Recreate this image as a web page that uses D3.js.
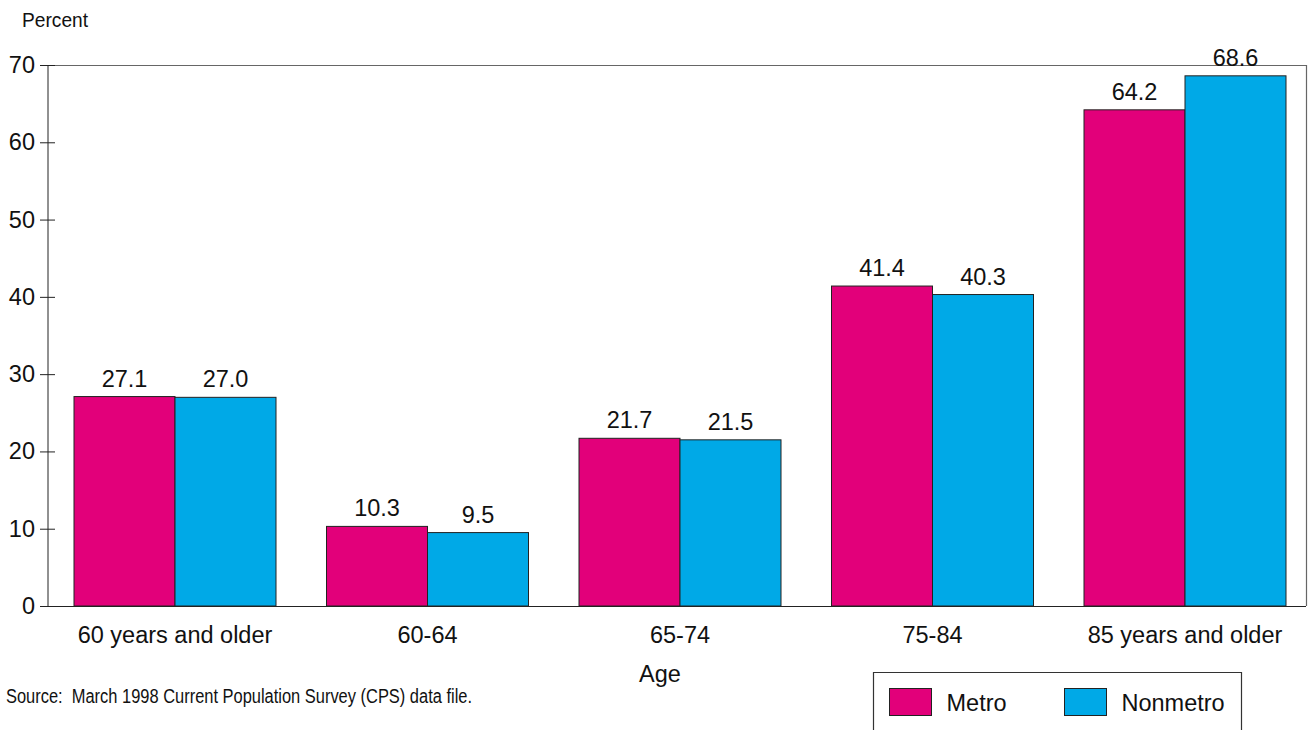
<!DOCTYPE html>
<html>
<head>
<meta charset="utf-8">
<script src="https://cdn.jsdelivr.net/npm/d3@7/dist/d3.min.js"></script>
<style>
  body { margin: 0; background: #fff; }
  svg { display: block; font-family: "Liberation Sans", Arial, sans-serif; }
</style>
</head>
<body>
<svg id="chart" width="1312" height="730"></svg>
<script>
// chart data
const ageGroups = ['60 years and older', '60-64', '65-74', '75-84', '85 years and older'];
const metroVals = [27.1, 10.3, 21.7, 41.4, 64.2];
const nonmetroVals = [27.0, 9.5, 21.5, 40.3, 68.6];
const seriesNames = ['Metro', 'Nonmetro'];
const yTicks = [0, 10, 20, 30, 40, 50, 60, 70];

const colors = { Metro: '#e2007a', Nonmetro: '#00a9e7' };
const fs = 23.5;

const svg = d3.select('#chart');
const margin = { left: 48, top: 65 };
const width = 1306 - margin.left;   // frame width
const height = 606 - margin.top;

const g = svg.append('g').attr('transform', `translate(${margin.left},${margin.top})`);

// bar groups don't sit symmetric in the frame, so the band range is a bit wider
const x0 = d3.scaleBand().domain(ageGroups).range([0.75, 1263.25]).paddingInner(0.2).paddingOuter(0.1);
const x1 = d3.scaleBand().domain(seriesNames).range([0, x0.bandwidth()]);
const y = d3.scaleLinear().domain([0, 70]).range([height, 0]);

// frame top + right (grey)
g.append('path')
  .attr('d', `M0,0.5H${width + 0.5}V${height}`)
  .attr('fill', 'none')
  .attr('stroke', '#666')
  .attr('stroke-width', 1.2);

const rows = ageGroups.map((a, i) => ({ age: a, Metro: metroVals[i], Nonmetro: nonmetroVals[i] }));

const grp = g.selectAll('g.grp').data(rows).enter().append('g')
  .attr('class', 'grp')
  .attr('transform', d => `translate(${x0(d.age)},0)`);

grp.selectAll('rect').data(d => seriesNames.map(s => ({ s: s, v: d[s] }))).enter().append('rect')
  .attr('x', d => x1(d.s))
  .attr('y', d => y(d.v))
  .attr('width', x1.bandwidth())
  .attr('height', d => height - y(d.v))
  .attr('fill', d => colors[d.s])
  .attr('stroke', '#222')
  .attr('stroke-width', 1);

grp.selectAll('text.val').data(d => seriesNames.map(s => ({ s: s, v: d[s] }))).enter().append('text')
  .attr('class', 'val')
  .attr('x', d => x1(d.s) + x1.bandwidth() / 2)
  .attr('y', d => y(d.v) - 10)
  .attr('text-anchor', 'middle')
  .attr('font-size', fs)
  .attr('fill', '#111')
  .text(d => d.v.toFixed(1));

// left axis with ticks crossing the line
const yAxis = d3.axisLeft(y).tickValues(yTicks).tickSize(0).tickPadding(13);
const ya = g.append('g').call(yAxis);
ya.attr('font-family', null).attr('font-size', null);
ya.select('.domain').remove();
ya.selectAll('.tick text').attr('font-size', fs).attr('fill', '#111');
ya.selectAll('.tick').append('line')
  .attr('x1', -8).attr('x2', 7).attr('stroke', '#222');
g.append('line').attr('x1', 0).attr('x2', 0).attr('y1', 0).attr('y2', height).attr('stroke', '#222');

// bottom axis
const xAxis = d3.axisBottom(x0).tickSize(0).tickPadding(20);
const xa = g.append('g').attr('transform', `translate(0,${height})`).call(xAxis);
xa.attr('font-family', null).attr('font-size', null);
xa.select('.domain').attr('stroke', '#222').attr('d', `M0,0.5H${width}`);
xa.selectAll('.tick text').attr('font-size', fs).attr('fill', '#111');

g.append('text')
  .attr('x', 612)
  .attr('y', height + 76)
  .attr('text-anchor', 'middle')
  .attr('font-size', fs)
  .attr('fill', '#111')
  .text('Age');

// narrow-looking labels: squeeze to the reference width
svg.append('text')
  .attr('x', 22).attr('y', 27)
  .attr('font-size', 21)
  .attr('textLength', 66)
  .attr('lengthAdjust', 'spacingAndGlyphs')
  .attr('fill', '#111')
  .text('Percent');

svg.append('text')
  .attr('x', 6).attr('y', 703)
  .attr('font-size', 20)
  .attr('textLength', 466)
  .attr('lengthAdjust', 'spacingAndGlyphs')
  .style('white-space', 'pre')
  .attr('fill', '#111')
  .text('Source:  March 1998 Current Population Survey (CPS) data file.');

// legend box (runs off the bottom edge)
const lg = svg.append('g').attr('transform', 'translate(873.5,672.5)');
lg.append('path')
  .attr('d', 'M0,70V0H368V70')
  .attr('fill', 'none')
  .attr('stroke', '#333')
  .attr('stroke-width', 1.2);
const lx = [16, 191];
seriesNames.forEach((s, i) => {
  lg.append('rect')
    .attr('x', lx[i]).attr('y', 16)
    .attr('width', 42).attr('height', 27)
    .attr('fill', colors[s])
    .attr('stroke', '#222');
  lg.append('text')
    .attr('x', lx[i] + 57).attr('y', 38)
    .attr('font-size', fs)
    .attr('fill', '#111')
    .text(s);
});
</script>
</body>
</html>
